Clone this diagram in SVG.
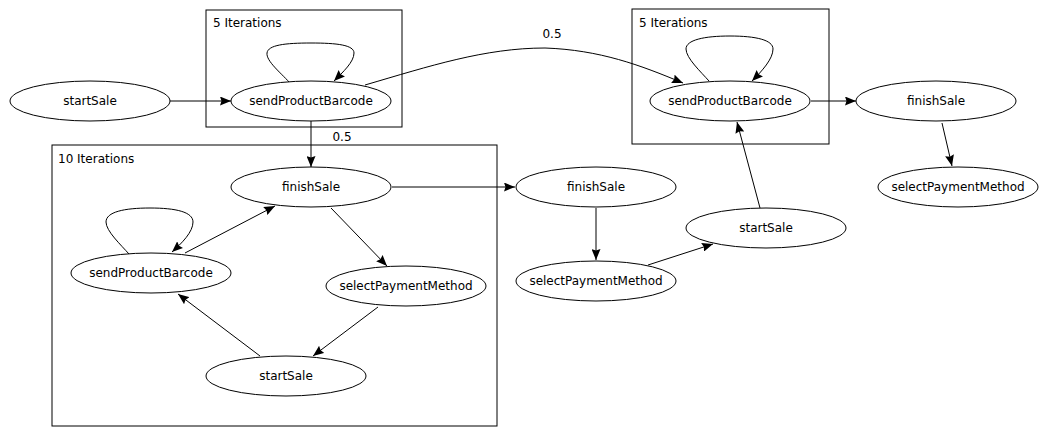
<svg xmlns="http://www.w3.org/2000/svg" width="1041" height="427" viewBox="0 0 1041 427">
<style>
text{font-family:"DejaVu Sans","Noto Sans",sans-serif;font-size:12px;fill:#000}
.n ellipse{fill:#fff;stroke:#000;stroke-width:1}
.n text{text-anchor:middle}
.c rect{fill:none;stroke:#000;stroke-width:1}
.e path{fill:none;stroke:#000;stroke-width:1;marker-end:url(#a)}
</style>
<defs>
<marker id="a" markerUnits="userSpaceOnUse" viewBox="0 0 11 9" refX="11" refY="4.5" markerWidth="11" markerHeight="9" orient="auto">
<path d="M0,0 L11,4.5 L0,9 L1.5,4.5 z" fill="#000"/>
</marker>
</defs>
<rect width="1041" height="427" fill="#fff"/>
<g id="cluster1" class="c"><rect x="206" y="10" width="196" height="117"/><text x="213" y="27">5 Iterations</text></g>
<g id="cluster2" class="c"><rect x="632" y="9" width="197" height="135"/><text x="639" y="27">5 Iterations</text></g>
<g id="cluster3" class="c"><rect x="52" y="145" width="445" height="281"/><text x="58" y="163">10 Iterations</text></g>
<g id="edges" class="e">
<path d="M170,101 L231,101"/>
<path d="M289,82 C281,73 266,61 267,53 C268,45 285,43 311,43 C337,43 354,45 354,53 C354,62 343,72 334,81"/>
<path d="M365,85 C430,66 485,48 545,48 C600,50 640,65 683,83"/>
<path d="M311,121 L311,167"/>
<path d="M392,187 L515,187"/>
<path d="M331,208 L387,266"/>
<path d="M378,307 L313,356"/>
<path d="M260,356 L178,294"/>
<path d="M185,253 L275,206"/>
<path d="M129,254 C121,245 106,231 106,222 C106,212 124,208 150,208 C176,208 193,212 193,222 C193,232 182,243 172,252"/>
<path d="M596,208 L596,260"/>
<path d="M648,265 L713,244"/>
<path d="M760,208 L737,122"/>
<path d="M709,81 C701,72 686,58 686,49 C686,40 704,36 730,36 C756,36 773,40 773,49 C773,59 762,71 752,81"/>
<path d="M811,101 L856,101"/>
<path d="M942,123 L952,166"/>
</g>
<g id="edge-labels">
<text x="552" y="38" text-anchor="middle">0.5</text>
<text x="342" y="141" text-anchor="middle">0.5</text>
</g>
<g id="startSale1" class="n"><ellipse cx="90" cy="101" rx="80" ry="20"/><text x="90" y="105">startSale</text></g>
<g id="sendProductBarcode1" class="n"><ellipse cx="311" cy="101" rx="80" ry="20"/><text x="311" y="105">sendProductBarcode</text></g>
<g id="sendProductBarcode2" class="n"><ellipse cx="730" cy="101" rx="80" ry="20"/><text x="730" y="105">sendProductBarcode</text></g>
<g id="finishSale4" class="n"><ellipse cx="936" cy="101" rx="80" ry="20"/><text x="936" y="105">finishSale</text></g>
<g id="selectPaymentMethod4" class="n"><ellipse cx="958" cy="187" rx="80" ry="20"/><text x="958" y="191">selectPaymentMethod</text></g>
<g id="finishSale3" class="n"><ellipse cx="311" cy="187" rx="80" ry="20"/><text x="311" y="191">finishSale</text></g>
<g id="sendProductBarcode3" class="n"><ellipse cx="151" cy="273" rx="80" ry="20"/><text x="151" y="277">sendProductBarcode</text></g>
<g id="selectPaymentMethod3" class="n"><ellipse cx="406" cy="286" rx="80" ry="20"/><text x="406" y="290">selectPaymentMethod</text></g>
<g id="startSale3" class="n"><ellipse cx="286" cy="376" rx="80" ry="20"/><text x="286" y="380">startSale</text></g>
<g id="finishSaleMid" class="n"><ellipse cx="596" cy="187" rx="80" ry="20"/><text x="596" y="191">finishSale</text></g>
<g id="selectPaymentMethodMid" class="n"><ellipse cx="596" cy="281" rx="80" ry="20"/><text x="596" y="285">selectPaymentMethod</text></g>
<g id="startSaleMid" class="n"><ellipse cx="766" cy="228" rx="80" ry="20"/><text x="766" y="232">startSale</text></g>
</svg>
